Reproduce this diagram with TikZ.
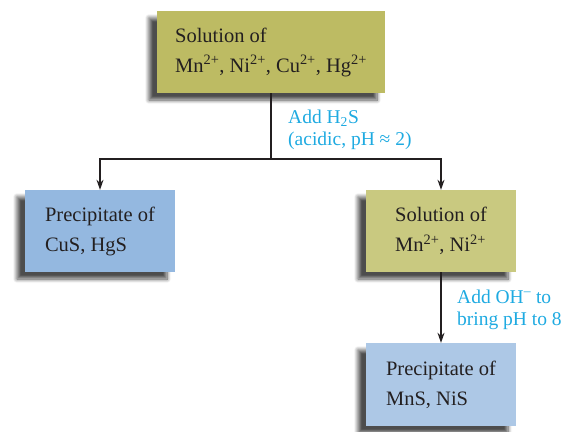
\documentclass[tikz,border=0pt]{standalone}
\usepackage{fontspec}
\setmainfont{Liberation Serif}
\usetikzlibrary{arrows.meta,shadows.blur}
\definecolor{oliveA}{RGB}{189,187,99}
\definecolor{oliveB}{RGB}{201,201,128}
\definecolor{blueA}{RGB}{148,184,224}
\definecolor{blueB}{RGB}{173,200,230}
\definecolor{cyanT}{RGB}{30,170,225}
\definecolor{inkT}{RGB}{35,31,32}
\tikzset{
  box/.style={inner sep=0pt, align=left, text=inkT,
    font=\fontsize{20.5}{30}\selectfont,
    blur shadow={shadow xshift=-8pt, shadow yshift=-7pt, shadow blur steps=8,
      shadow blur radius=4pt, shadow opacity=70}},
  lbl/.style={inner sep=0pt, align=left, text=cyanT, anchor=base west,
    font=\fontsize{19.5}{21.5}\selectfont},
  conn/.style={draw=inkT, line width=1.1pt},
  arr/.style={conn, -{Stealth[length=10pt,width=7pt]}}
}
\begin{document}
\begin{tikzpicture}[x=1pt,y=-1pt]
\useasboundingbox (0,0) rectangle (567,431);
\node[box, fill=oliveA, minimum width=228pt, minimum height=82pt] (top) at (271,52)
  {Solution of\\Mn\textsuperscript{2+}, Ni\textsuperscript{2+}, Cu\textsuperscript{2+}, Hg\textsuperscript{2+}};
\node[box, fill=blueA, minimum width=150pt, minimum height=82pt] (left) at (100,231)
  {Precipitate of\\CuS, HgS};
\node[box, fill=oliveB, minimum width=150pt, minimum height=82pt] (mid) at (441,231)
  {Solution of\\Mn\textsuperscript{2+}, Ni\textsuperscript{2+}};
\node[box, fill=blueB, minimum width=150pt, minimum height=83pt] (bot) at (441,384.5)
  {Precipitate of\\MnS, NiS};
\coordinate (j) at (271,159);
\draw[conn] (top.south) -- (j);
\draw[arr] (j) -| (left.north);
\draw[arr] (j) -| (mid.north);
\draw[arr] (mid.south) -- (bot.north);
\node[lbl] (l1) at (288,145) {Add H\textsubscript{2}S\\(acidic, pH ≈ 2)};
\node[lbl] (l2) at (457,325) {Add OH\textsuperscript{–} to\\bring pH to 8};
\end{tikzpicture}
\end{document}
